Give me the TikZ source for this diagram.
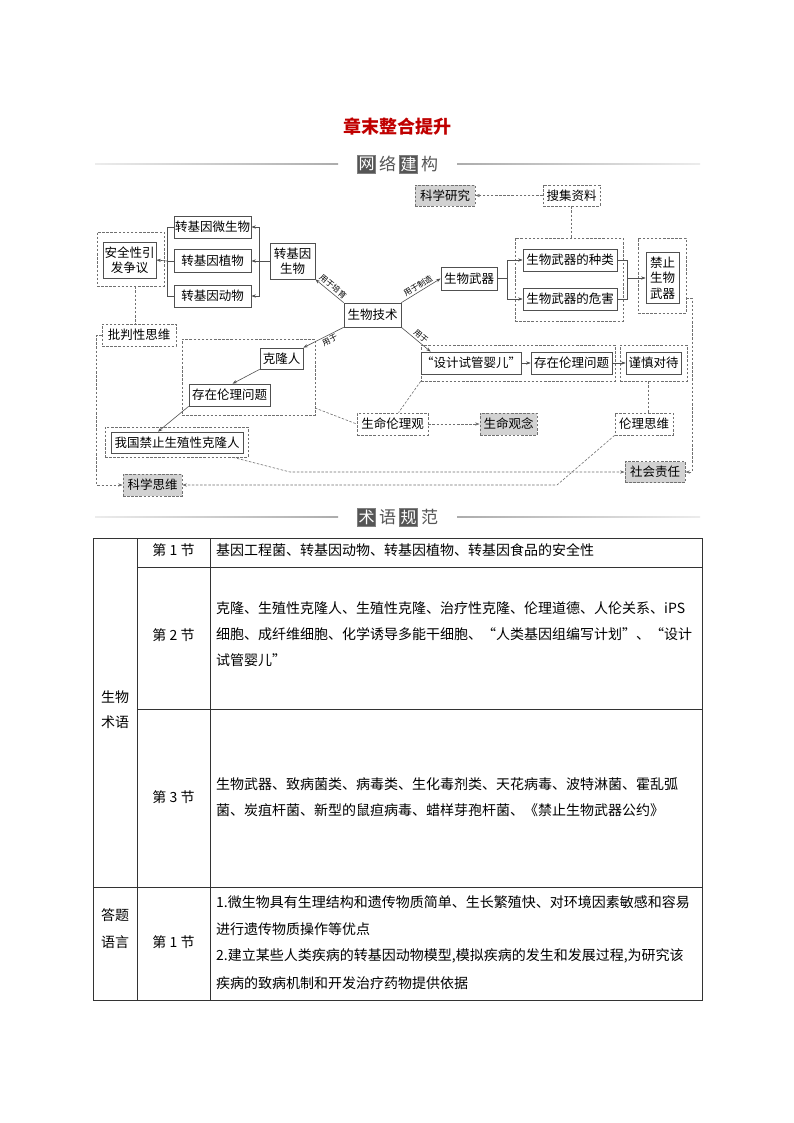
\documentclass[tikz,border=0pt]{standalone}
\usepackage{fontspec}
\setmainfont{Noto Sans CJK SC}
\usetikzlibrary{arrows.meta}
\definecolor{cLn}{HTML}{505050}
\definecolor{cDl}{HTML}{707070}
\definecolor{cGf}{HTML}{D2D2D2}
\definecolor{cRed}{HTML}{C00000}
\definecolor{cHd}{HTML}{555555}
\begin{document}
\begin{tikzpicture}[x=1pt,y=-1pt,
  font=\fontsize{12.5}{15.5}\selectfont,
  box/.style={draw=cLn, line width=0.7pt, inner sep=0pt, align=center},
  dbox/.style={draw=cDl, line width=0.7pt, dash pattern=on 2.5pt off 1.6pt, inner sep=0pt, align=center},
  gbox/.style={dbox, fill=cGf},
  con/.style={draw=cLn, line width=0.6pt},
  arr/.style={con, -{Stealth[length=4.5pt,width=3.2pt]}},
  dcon/.style={draw=cDl, line width=0.6pt, dash pattern=on 2.5pt off 1.6pt},
  darr/.style={dcon, -{Stealth[length=4.5pt,width=3.2pt]}},
  lbl/.style={font=\fontsize{8}{8}\selectfont, inner sep=0.5pt},
  hbox/.style={fill=cHd, draw=gray, text=white, inner sep=0pt, minimum size=18pt, font=\fontsize{16}{16}\selectfont},
  htxt/.style={text=cHd, inner sep=0pt, font=\fontsize{17}{17}\selectfont},
  tline/.style={line width=0.9pt, draw=black!80},
  tt/.style={font=\fontsize{14}{14}\selectfont, inner sep=0pt, anchor=west},
  tc/.style={font=\fontsize{14}{14}\selectfont, inner sep=0pt},
]
\useasboundingbox (0,0) rectangle (794,1123);
\fill[white] (0,0) rectangle (794,1123);

% title
\node[text=cRed, font=\fontsize{18}{18}\selectfont\bfseries] (title) at (397,127) {章末整合提升};

% header 1
\shade[left color=gray!15, right color=gray!65] (95,163.4) rectangle (338,164.8);
\shade[left color=gray!65, right color=gray!15] (457,163.4) rectangle (700,164.8);
\node[hbox] (h1a) at (366.5,164) {网};
\node[htxt] (h1b) at (387.5,164) {络};
\node[hbox] (h1c) at (408.5,164) {建};
\node[htxt] (h1d) at (429.5,164) {构};

% ---------- diagram nodes ----------
\node[box, minimum width=77pt, minimum height=22pt] (wsw) at (212.5,227) {转基因微生物};
\node[box, minimum width=77pt, minimum height=23pt] (zw) at (212.5,261) {转基因植物};
\node[box, minimum width=77pt, minimum height=22pt] (dw) at (212.5,296) {转基因动物};
\node[dbox, minimum width=67pt, minimum height=54pt] (aqd) at (130.5,259) {};
\node[box, minimum width=53pt, minimum height=36pt] (aq) at (129.5,260) {安全性引\\发争议};
\node[box, minimum width=45pt, minimum height=36pt] (zjy) at (292.5,261) {转基因\\生物};
\node[box, minimum width=57pt, minimum height=24pt] (swjs) at (372.5,315) {生物技术};
\node[dbox, minimum width=74pt, minimum height=22pt] (pp) at (139,335) {批判性思维};

\node[gbox, minimum width=60pt, minimum height=21pt] (kxyj) at (445,195.5) {科学研究};
\node[dbox, minimum width=57pt, minimum height=21pt] (sjzl) at (571.5,195.5) {搜集资料};
\node[dbox, minimum width=108pt, minimum height=83pt] (bigd) at (569,279.5) {};
\node[box, minimum width=94pt, minimum height=22pt] (zl) at (570,260) {生物武器的种类};
\node[box, minimum width=94pt, minimum height=22pt] (wh) at (570,299) {生物武器的危害};
\node[box, minimum width=56pt, minimum height=23pt] (swwq) at (469,278.5) {生物武器};
\node[dbox, minimum width=48pt, minimum height=75pt] (jzd) at (662,275.5) {};
\node[box, minimum width=33pt, minimum height=51pt] (jz) at (662.5,278) {禁止\\生物\\武器};

\node[dbox, minimum width=133pt, minimum height=76pt] (lld) at (248.5,377) {};
\node[box, minimum width=43pt, minimum height=21pt] (kl) at (281.5,358.5) {克隆人};
\node[box, minimum width=81pt, minimum height=22pt] (cz1) at (229.5,395) {存在伦理问题};
\node[dbox, minimum width=143pt, minimum height=30pt] (wgd) at (176.5,442) {};
\node[box, minimum width=132pt, minimum height=21pt] (wg) at (177,442.5) {我国禁止生殖性克隆人};
\node[gbox, minimum width=59pt, minimum height=22pt] (kxsw) at (152.5,485) {科学思维};

\node[dbox, minimum width=71pt, minimum height=22pt] (smllg) at (392.5,424) {生命伦理观};
\node[gbox, minimum width=57pt, minimum height=22pt] (smgn) at (508.5,424) {生命观念};
\node[dbox, minimum width=58pt, minimum height=22pt] (llsw) at (644,424) {伦理思维};
\node[gbox, minimum width=60pt, minimum height=21pt] (shzr) at (655,472) {社会责任};

\node[dbox, minimum width=194pt, minimum height=36pt] (sjd) at (518,363) {};
\node[box, minimum width=92pt, minimum height=22pt] (sj) at (471,363) {“设计试管婴儿”};
\node[box, minimum width=81pt, minimum height=22pt] (cz2) at (571.5,363) {存在伦理问题};
\node[dbox, minimum width=67pt, minimum height=36pt] (jsd) at (653.5,363) {};
\node[box, minimum width=55pt, minimum height=22pt] (jsi) at (653.5,363) {谨慎对待};

% ---------- connectors ----------
\coordinate (c1) at (259,261);
\draw[con] (zjy.west) -- (c1);
\draw[arr] (c1) |- (wsw.east);
\draw[arr] (c1) |- (dw.east);
\draw[arr] (c1) -- (zw.east);

\coordinate (c2) at (167,261);
\draw[con] (wsw.west) -| (c2);
\draw[con] (dw.west) -| (c2);
\draw[con] (zw.west) -- (c2);
\draw[arr] (c2) -- (aq.east);

\draw[dcon] ([xshift=4.5pt]aqd.south) -- ([xshift=-4pt]pp.north);
\draw[darr] (pp.west) -- ++(-5,0) |- (kxsw.west);

\draw[arr] (swjs.north west) -- node[lbl, sloped, above=1.2pt] (l1) {用于培育} (zjy.south east);
\draw[arr] (swjs.north east) -- node[lbl, sloped, above=1.2pt] (l2) {用于制造} (swwq.west);
\draw[arr] (swjs.south east) -- node[lbl, sloped, above=1.2pt, pos=0.55] (l3) {用于} ([xshift=10pt]sj.north west);
\draw[arr] (swjs.south west) -- node[lbl, sloped, below=1.2pt, pos=0.4] (l4) {用于} (kl.north east);

\draw[arr] (kl.south west) -- ([xshift=3pt]cz1.north);
\draw[arr] (cz1.south west) -- ([xshift=-19pt]wg.north);

\coordinate (c3) at (315,408);
\draw[dcon] (c3) -- (smllg.west);
\draw[dcon] (sjd.south west) -- ([xshift=6pt]smllg.north);
\draw[darr] (smllg.east) -- (smgn.west);

\coordinate (c4) at (290,472);
\draw[darr] ([xshift=56.5pt]wgd.south) -- (c4) -- (shzr.west);
\coordinate (c5) at (557,485);
\draw[darr] (llsw.south west) -- (c5) -- (kxsw.east);

\coordinate (c6) at (692,298);
\draw[darr] (c6 -| jzd.east) -- (c6) |- (shzr.east);

\draw[darr] (sjzl.west) -- (kxyj.east);
\draw[dcon] (sjzl.south) -- (sjzl.south |- bigd.north);

\coordinate (c7) at (507,278.5);
\draw[con] (swwq.east) -- (c7);
\draw[arr] (c7) |- (zl.west);
\draw[arr] (c7) |- (wh.west);
\coordinate (c8) at (627,278);
\draw[con] (zl.east) -| (c8);
\draw[con] (wh.east) -| (c8);
\draw[arr] (c8) -- (jz.west);

\draw[arr] (sj.east) -- (cz2.west);
\draw[arr] (cz2.east) -- (jsi.west);
\draw[dcon] ([xshift=-5.5pt]jsd.south) -- ([xshift=4pt]llsw.north);

% header 2
\shade[left color=gray!15, right color=gray!65] (95,516.4) rectangle (338,517.8);
\shade[left color=gray!65, right color=gray!15] (457,516.4) rectangle (700,517.8);
\node[hbox] (h2a) at (366.5,517) {术};
\node[htxt] (h2b) at (387.5,517) {语};
\node[hbox] (h2c) at (408.5,517) {规};
\node[htxt] (h2d) at (429.5,517) {范};

% ---------- table ----------
\draw[tline] (93,538) rectangle (702,1000);
\draw[tline] (137,538) -- (137,1000);
\draw[tline] (210,538) -- (210,1000);
\draw[tline] (137,567) -- (702,567);
\draw[tline] (137,709) -- (702,709);
\draw[tline] (93,887) -- (702,887);

\node[tc] (a1) at (115,697) {生物};
\node[tc] (a2) at (115,722) {术语};
\node[tc] (a3) at (115,915) {答题};
\node[tc] (a4) at (115,942) {语言};

\node[tc] (s1) at (173.5,550) {第 1 节};
\node[tc] (s2) at (173.5,635) {第 2 节};
\node[tc] (s3) at (173.5,797) {第 3 节};
\node[tc] (s4) at (173.5,942) {第 1 节};

\node[tt] (r1) at (216,550) {基因工程菌、转基因动物、转基因植物、转基因食品的安全性};
\node[tt] (r2a) at (216,608) {克隆、生殖性克隆人、生殖性克隆、治疗性克隆、伦理道德、人伦关系、iPS};
\node[tt] (r2b) at (216,634) {细胞、成纤维细胞、化学诱导多能干细胞、“人类基因组编写计划”、“设计};
\node[tt] (r2c) at (216,660) {试管婴儿”};
\node[tt] (r3a) at (216,784) {生物武器、致病菌类、病毒类、生化毒剂类、天花病毒、波特淋菌、霍乱弧};
\node[tt] (r3b) at (216,810) {菌、炭疽杆菌、新型的鼠疸病毒、蜡样芽孢杆菌、《禁止生物武器公约》};
\node[tt] (r4a) at (216,902) {1.微生物具有生理结构和遗传物质简单、生长繁殖快、对环境因素敏感和容易};
\node[tt] (r4b) at (216,929) {进行遗传物质操作等优点};
\node[tt] (r4c) at (216,956) {2.建立某些人类疾病的转基因动物模型,模拟疾病的发生和发展过程,为研究该};
\node[tt] (r4d) at (216,983) {疾病的致病机制和开发治疗药物提供依据};
\end{tikzpicture}
\end{document}
